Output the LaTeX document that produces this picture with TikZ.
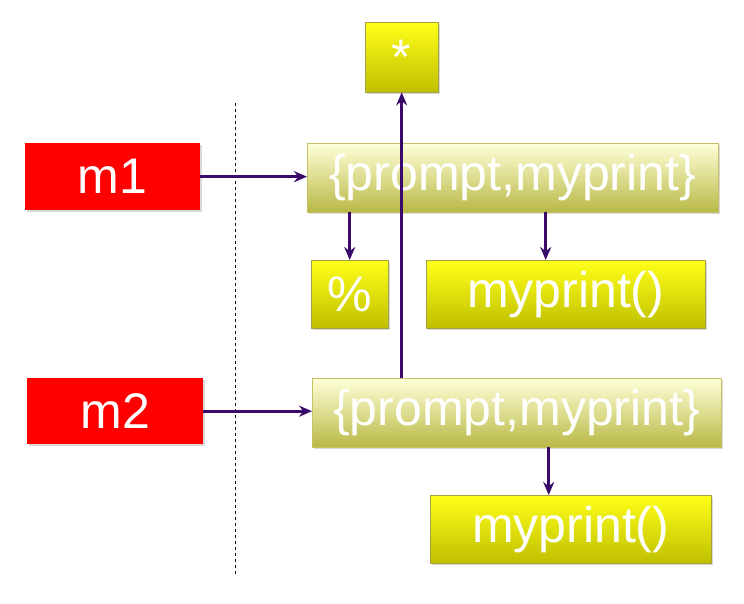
\documentclass[tikz,border=0pt]{standalone}
\usepackage{fontspec}
\setmainfont{Liberation Sans}
\usetikzlibrary{arrows.meta,shadows}
\begin{document}
\begin{tikzpicture}[x=1pt,y=-1pt,
 box/.style={draw=none,anchor=north west,inner sep=0pt,text=white,font=\fontsize{50}{54}\selectfont,drop shadow={shadow xshift=2pt,shadow yshift=-2pt,opacity=0.3}},
 red/.style={box,fill=red},
 yel/.style={box,top color=yellow!90!white,bottom color=yellow!75!black,draw=yellow!60!black},
 pale/.style={box,top color=yellow!15!white,bottom color=yellow!45!gray,draw=yellow!50!gray},
 arr/.style={draw={rgb,255:red,58;green,10;blue,106},line width=3pt,-{Stealth[length=13pt,width=11pt]}}]
\useasboundingbox (0,0) rectangle (744,604);
\node[yel,minimum width=73pt,minimum height=70pt] (star) at (365,22) {*};
\node[red,minimum width=175pt,minimum height=67pt] (m1) at (25,143) {m1};
\node[pale,minimum width=411pt,minimum height=69pt] (p1) at (307,143) {\{prompt,myprint\}};
\node[yel,minimum width=77pt,minimum height=68pt] (pc) at (311,260) {\%};
\node[yel,minimum width=279pt,minimum height=68pt] (mp1) at (426,260) {myprint()};
\node[red,minimum width=176pt,minimum height=66pt] (m2) at (27,378) {m2};
\node[pale,minimum width=409pt,minimum height=69pt] (p2) at (312,378) {\{prompt,myprint\}};
\node[yel,minimum width=281pt,minimum height=68pt] (mp2) at (430,495) {myprint()};
\coordinate (d1) at (235,103); \coordinate (d2) at (235,575);
\draw[dashed,line width=1pt] (d1) -- (d2);
\draw[arr] (m1.east) -- (m1.east -| p1.west);
\draw[arr] (m2.east) -- (m2.east -| p2.west);
\draw[arr] (p2.north -| star.south) -- (star.south);
\draw[arr] (p1.south -| pc.north) -- (pc.north);
\draw[arr] ([xshift=-20pt]p1.south -| mp1.north) -- ([xshift=-20pt]mp1.north);
\draw[arr] ([xshift=-22pt]p2.south -| mp2.north) -- ([xshift=-22pt]mp2.north);
\end{tikzpicture}
\end{document}
